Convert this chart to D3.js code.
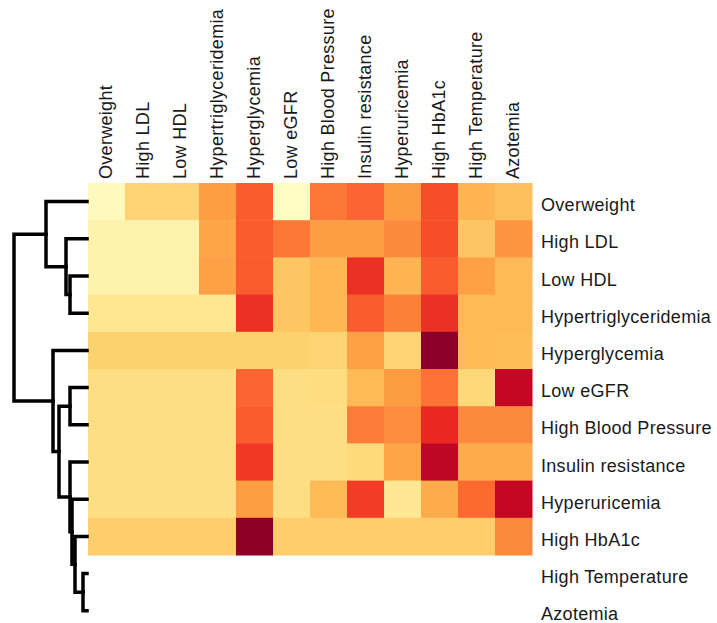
<!DOCTYPE html>
<html>
<head>
<meta charset="utf-8">
<script src="https://cdn.jsdelivr.net/npm/d3@7"></script>
<style>
  html, body { margin: 0; padding: 0; background: #fff; }
  svg { display: block; }
  text { font-family: "Liberation Sans", Arial, Helvetica, sans-serif; fill: #1a1a1a; }
</style>
</head>
<body>
<svg id="chart" width="717" height="623"></svg>
<script>
// ---- data ----
const columns = ["Overweight", "High LDL", "Low HDL", "Hypertriglyceridemia", "Hyperglycemia",
  "Low eGFR", "High Blood Pressure", "Insulin resistance", "Hyperuricemia", "High HbA1c",
  "High Temperature", "Azotemia"];
const rowLabels = ["Overweight", "High LDL", "Low HDL", "Hypertriglyceridemia", "Hyperglycemia",
  "Low eGFR", "High Blood Pressure", "Insulin resistance", "Hyperuricemia", "High HbA1c",
  "High Temperature", "Azotemia"];

// colour intensity (0 = lightest, 1 = darkest); last two rows have no cells
const rowOverweight     = [0.04, 0.26, 0.26, 0.44, 0.60, 0.03, 0.54, 0.58, 0.45, 0.63, 0.37, 0.33];
const rowHighLDL        = [0.09, 0.09, 0.09, 0.42, 0.60, 0.54, 0.44, 0.44, 0.50, 0.63, 0.31, 0.47];
const rowLowHDL         = [0.09, 0.09, 0.09, 0.43, 0.60, 0.31, 0.36, 0.70, 0.37, 0.60, 0.43, 0.35];
const rowHypertri       = [0.17, 0.17, 0.17, 0.17, 0.70, 0.31, 0.36, 0.60, 0.52, 0.70, 0.35, 0.35];
const rowHyperglycemia  = [0.27, 0.27, 0.27, 0.27, 0.27, 0.27, 0.26, 0.43, 0.26, 0.98, 0.35, 0.34];
const rowLowEGFR        = [0.21, 0.21, 0.21, 0.21, 0.58, 0.21, 0.22, 0.35, 0.45, 0.55, 0.24, 0.85];
const rowHighBP         = [0.21, 0.21, 0.21, 0.21, 0.60, 0.21, 0.21, 0.53, 0.49, 0.72, 0.50, 0.50];
const rowInsulin        = [0.21, 0.21, 0.21, 0.21, 0.68, 0.21, 0.21, 0.23, 0.42, 0.86, 0.40, 0.40];
const rowHyperuricemia  = [0.21, 0.21, 0.21, 0.21, 0.44, 0.21, 0.35, 0.67, 0.16, 0.40, 0.57, 0.85];
const rowHbA1c          = [0.28, 0.28, 0.28, 0.28, 0.97, 0.28, 0.28, 0.28, 0.28, 0.28, 0.28, 0.50];
const matrix = [rowOverweight, rowHighLDL, rowLowHDL, rowHypertri, rowHyperglycemia,
  rowLowEGFR, rowHighBP, rowInsulin, rowHyperuricemia, rowHbA1c];

// dendrogram merges: [left, right, height]; indices < 12 are leaves (rows),
// index 12 + k refers to the k-th merge
const merges = [
  [10, 11, 4],    // 12: High Temperature + Azotemia
  [9, 12, 12],    // 13
  [8, 13, 15],    // 14
  [7, 14, 17],    // 15
  [5, 6, 17],     // 16: Low eGFR + High BP
  [16, 15, 28],   // 17
  [4, 17, 34],    // 18
  [2, 3, 17],     // 19: Low HDL + Hypertri
  [1, 19, 21],    // 20
  [0, 20, 41],    // 21
  [21, 18, 73]    // 22: root
];

// ---- layout ----
const svg = d3.select("#chart");
const x = d3.scaleBand().domain(columns).range([88, 532]);
const y = d3.scaleBand().domain(rowLabels).range([183, 183 + 12 * 37.2]);
const color = d3.scaleSequential(d3.interpolateYlOrRd).domain([0, 1]);
const hx = d3.scaleLinear().domain([0, 73]).range([87, 14]);

// cells
const cells = [];
matrix.forEach((row, i) => row.forEach((v, j) => cells.push({ r: rowLabels[i], c: columns[j], v })));
svg.append("g").selectAll("rect").data(cells).join("rect")
  .attr("x", d => x(d.c))
  .attr("y", d => y(d.r))
  .attr("width", x.bandwidth() + 0.5)
  .attr("height", y.bandwidth() + 0.5)
  .attr("fill", d => color(d.v));

// column labels
svg.append("g").selectAll("text").data(columns).join("text")
  .attr("transform", d => `translate(${x(d) + x.bandwidth() / 2 + 5},179) rotate(-90)`)
  .attr("font-size", 18)
  .attr("letter-spacing", 0.3)
  .text(d => d);

// row labels
svg.append("g").selectAll("text").data(rowLabels).join("text")
  .attr("x", 541)
  .attr("y", d => y(d) + y.bandwidth() / 2 + 9.5)
  .attr("font-size", 18)
  .attr("letter-spacing", 0.3)
  .text(d => d);

// dendrogram
const nodes = rowLabels.map(r => ({ y: y(r) + y.bandwidth() / 2, h: 0 }));
const dg = svg.append("g").attr("fill", "none").attr("stroke", "#000")
  .attr("stroke-width", 3.5).attr("stroke-linecap", "square");
merges.forEach(([a, b, h]) => {
  const A = nodes[a], B = nodes[b];
  const path = d3.path();
  path.moveTo(hx(A.h), A.y);
  path.lineTo(hx(h), A.y);
  path.lineTo(hx(h), B.y);
  path.lineTo(hx(B.h), B.y);
  dg.append("path").attr("d", path.toString());
  nodes.push({ y: (A.y + B.y) / 2, h });
});
</script>
</body>
</html>
